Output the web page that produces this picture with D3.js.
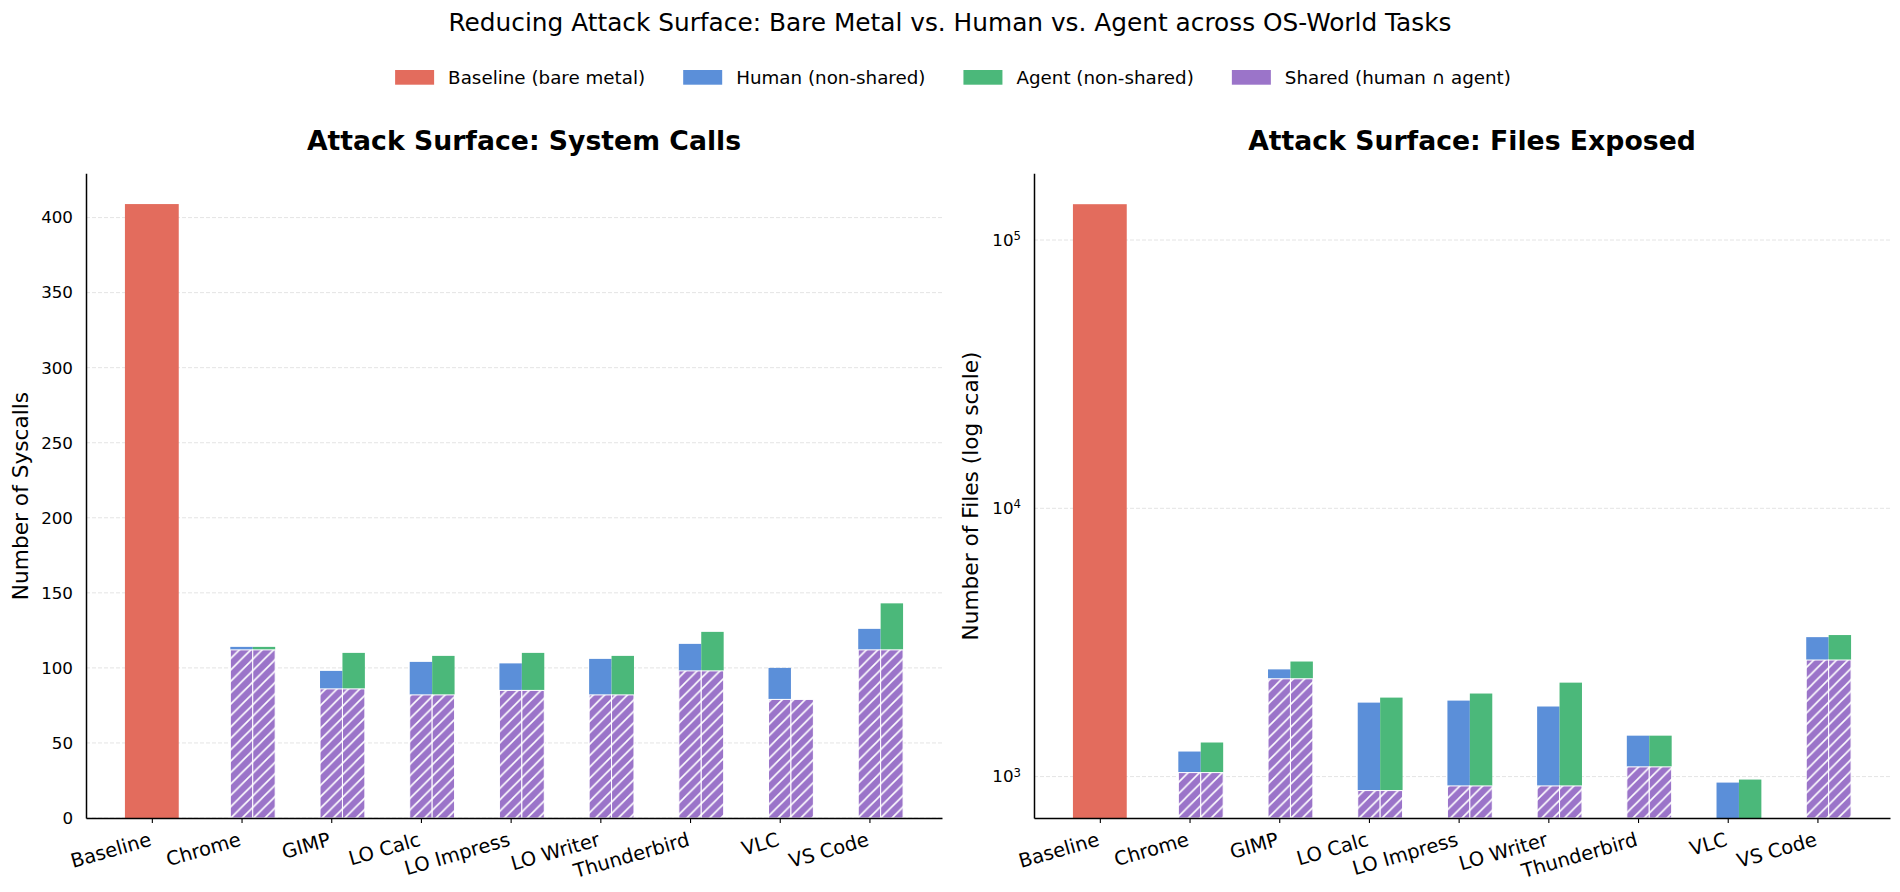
<!DOCTYPE html>
<html>
<head>
<meta charset="utf-8">
<script src="https://cdn.jsdelivr.net/npm/d3@7"></script>
<style>
  body { margin: 0; background: #fff; }
  svg { display: block; font-family: "DejaVu Sans", sans-serif; }
  .xlabels text { font-size: 19.5px; }
</style>
</head>
<body>
<svg id="chart" width="1900" height="892"></svg>
<script>

// ---- data ----
const categories = ["Baseline", "Chrome", "GIMP", "LO Calc", "LO Impress", "LO Writer", "Thunderbird", "VLC", "VS Code"];

const baselineSyscalls = 409;
const sharedSyscalls    = [112, 86, 82, 85, 82, 98, 79, 112];
const humanOnlySyscalls = [2, 12, 22, 18, 24, 18, 21, 14];
const agentOnlySyscalls = [2, 24, 26, 25, 26, 26, 0, 31];

const baselineFiles = 136000;
const sharedFiles    = [1035, 2315, 887, 923, 923, 1087, 0, 2720];
const humanOnlyFiles = [205, 195, 1000, 997, 902, 334, 950, 590];
const agentOnlyFiles = [305, 370, 1083, 1117, 1317, 334, 975, 650];

const syscallTicks = [0, 50, 100, 150, 200, 250, 300, 350, 400];
const fileTicks = [1e3, 1e4, 1e5];

const legendLabels = ["Baseline (bare metal)", "Human (non-shared)", "Agent (non-shared)", "Shared (human \u2229 agent)"];

const colors = {
	baseline: "#e36c5d",
	human: "#5b8fd9",
	agent: "#4bb87a",
	shared: "#9b74c9"
};

const svg = d3.select("#chart");

// hatch for the shared part, aligned to the page like matplotlib's
const hs = 11.4;
const defs = svg.append("defs");
const hatch = defs.append("pattern")
	.attr("id", "shared-hatch")
	.attr("patternUnits", "userSpaceOnUse")
	.attr("width", hs)
	.attr("height", hs);
hatch.append("rect")
	.attr("width", hs).attr("height", hs)
	.attr("fill", colors.shared);
hatch.append("path")
	.attr("d", `M-2,2 L2,-2 M0,${hs} L${hs},0 M${hs - 2},${hs + 2} L${hs + 2},${hs - 2}`)
	.attr("stroke", "white")
	.attr("stroke-width", 1.6);

// suptitle
svg.append("text")
	.attr("x", 950).attr("y", 31.4)
	.attr("text-anchor", "middle")
	.style("font-size", "24.8px")
	.text("Reducing Attack Surface: Bare Metal vs. Human vs. Agent across OS-World Tasks");

// legend
const legendFill = [colors.baseline, colors.human, colors.agent, colors.shared];
const legend = svg.append("g");
let lx = 0;
legendLabels.forEach((label, i) => {
	const item = legend.append("g").attr("transform", "translate(" + lx + ",0)");
	item.append("rect")
		.attr("x", 0).attr("y", 70)
		.attr("width", 39).attr("height", 14.7)
		.attr("fill", legendFill[i]);
	const t = item.append("text")
		.attr("x", 53).attr("y", 84)
		.style("font-size", "18.3px")
		.text(label);
	lx += 53 + t.node().getComputedTextLength() + 38;
});
const legendWidth = lx - 38;
legend.attr("transform", "translate(" + (953 - legendWidth / 2) + ",0)");

function drawPanel(opt) {
	const top = 173.3, bottom = 818;

	const x = d3.scaleLinear()
		.domain([-0.734, 8.809])
		.range([opt.left, opt.right]);

	const y = opt.y.range([bottom, top]);
	const yMin = y.domain()[0];
	const yv = v => y(Math.max(v, yMin));

	const g = svg.append("g");

	// grid
	g.append("g").selectAll("line")
		.data(opt.ticks)
		.enter().append("line")
			.attr("x1", opt.left).attr("x2", opt.right)
			.attr("y1", d => y(d)).attr("y2", d => y(d))
			.attr("stroke", "#e4e4e4")
			.attr("stroke-width", 1)
			.attr("stroke-dasharray", "4,2");

	// baseline bar
	g.append("rect")
		.attr("x", x(-0.3))
		.attr("width", x(0.3) - x(-0.3))
		.attr("y", y(opt.baseline))
		.attr("height", bottom - y(opt.baseline))
		.attr("fill", colors.baseline);

	const idx = d3.range(opt.shared.length);

	// human non-shared, stacked on shared
	g.append("g").selectAll("rect")
		.data(idx)
		.enter().append("rect")
			.attr("x", i => x(i + 1 - 0.125))
			.attr("width", x(0.25) - x(0))
			.attr("y", i => yv(opt.shared[i] + opt.humanOnly[i]))
			.attr("height", i => yv(opt.shared[i]) - yv(opt.shared[i] + opt.humanOnly[i]))
			.attr("fill", colors.human);

	// agent non-shared
	g.append("g").selectAll("rect")
		.data(idx)
		.enter().append("rect")
			.attr("x", i => x(i + 1 + 0.125))
			.attr("width", x(0.25) - x(0))
			.attr("y", i => yv(opt.shared[i] + opt.agentOnly[i]))
			.attr("height", i => yv(opt.shared[i]) - yv(opt.shared[i] + opt.agentOnly[i]))
			.attr("fill", colors.agent);

	// shared part, under both human and agent
	[-0.125, 0.125].forEach(off => {
		g.append("g").selectAll("rect")
			.data(idx.filter(i => opt.shared[i] > yMin))
			.enter().append("rect")
				.attr("x", i => x(i + 1 + off))
				.attr("width", x(0.25) - x(0))
				.attr("y", i => yv(opt.shared[i]))
				.attr("height", i => bottom - yv(opt.shared[i]))
				.attr("fill", "url(#shared-hatch)")
				.attr("stroke", "white")
				.attr("stroke-width", 1);
	});

	// x axis
	const xAxis = d3.axisBottom(x)
		.tickValues(d3.range(categories.length))
		.tickFormat(i => categories[i])
		.tickSize(5)
		.tickSizeOuter(0);
	const xg = g.append("g")
		.attr("class", "xlabels")
		.attr("transform", "translate(0," + bottom + ")")
		.call(xAxis)
		.attr("font-size", null)
		.attr("font-family", null);
	xg.select(".domain").attr("stroke", "black").attr("stroke-width", 1.5);
	xg.selectAll(".tick line").attr("stroke", "black").attr("stroke-width", 1.1);
	xg.selectAll(".tick text")
		.attr("fill", "black")
		.attr("font-size", 19.5)
		.attr("text-anchor", "end")
		.attr("x", 0).attr("y", 0)
		.attr("dy", "0.76em")
		.attr("transform", "translate(-4,13) rotate(-16)");

	// y axis
	const yAxis = d3.axisLeft(y)
		.tickValues(opt.ticks)
		.tickSize(0)
		.tickSizeOuter(0)
		.tickPadding(13)
		.tickFormat(opt.format);
	const yg = g.append("g")
		.attr("transform", "translate(" + opt.left + ",0)")
		.call(yAxis)
		.attr("font-size", null)
		.attr("font-family", null);
	yg.select(".domain").attr("stroke", "black").attr("stroke-width", 1.5);
	yg.selectAll(".tick text")
		.attr("fill", "black")
		.style("font-size", "16.7px");
	if (opt.sup) {
		yg.selectAll(".tick text").each(function(d) {
			const t = d3.select(this).text("");
			t.append("tspan").text("10");
			t.append("tspan")
				.attr("dy", "-0.5em")
				.style("font-size", "11.7px")
				.text(Math.round(Math.log10(d)));
		});
	}

	// axis label
	svg.append("text")
		.attr("transform", "translate(" + opt.labelX + ",496) rotate(-90)")
		.attr("text-anchor", "middle")
		.style("font-size", "21.7px")
		.text(opt.ylabel);

	// panel title
	svg.append("text")
		.attr("x", (opt.left + opt.right) / 2 + 10)
		.attr("y", 150.2)
		.attr("text-anchor", "middle")
		.style("font-size", "26.7px")
		.style("font-weight", "bold")
		.text(opt.title);
}

drawPanel({
	left: 86, right: 942,
	y: d3.scaleLinear().domain([0, 429.5]),
	ticks: syscallTicks,
	format: d3.format("d"),
	baseline: baselineSyscalls,
	shared: sharedSyscalls, humanOnly: humanOnlySyscalls, agentOnly: agentOnlySyscalls,
	ylabel: "Number of Syscalls", labelX: 28.3,
	title: "Attack Surface: System Calls"
});

drawPanel({
	left: 1034, right: 1890,
	y: d3.scaleLog().domain([701, 177300]),
	ticks: fileTicks,
	format: d => d,
	sup: true,
	baseline: baselineFiles,
	shared: sharedFiles, humanOnly: humanOnlyFiles, agentOnly: agentOnlyFiles,
	ylabel: "Number of Files (log scale)", labelX: 978.3,
	title: "Attack Surface: Files Exposed"
});

</script>
</body>
</html>
